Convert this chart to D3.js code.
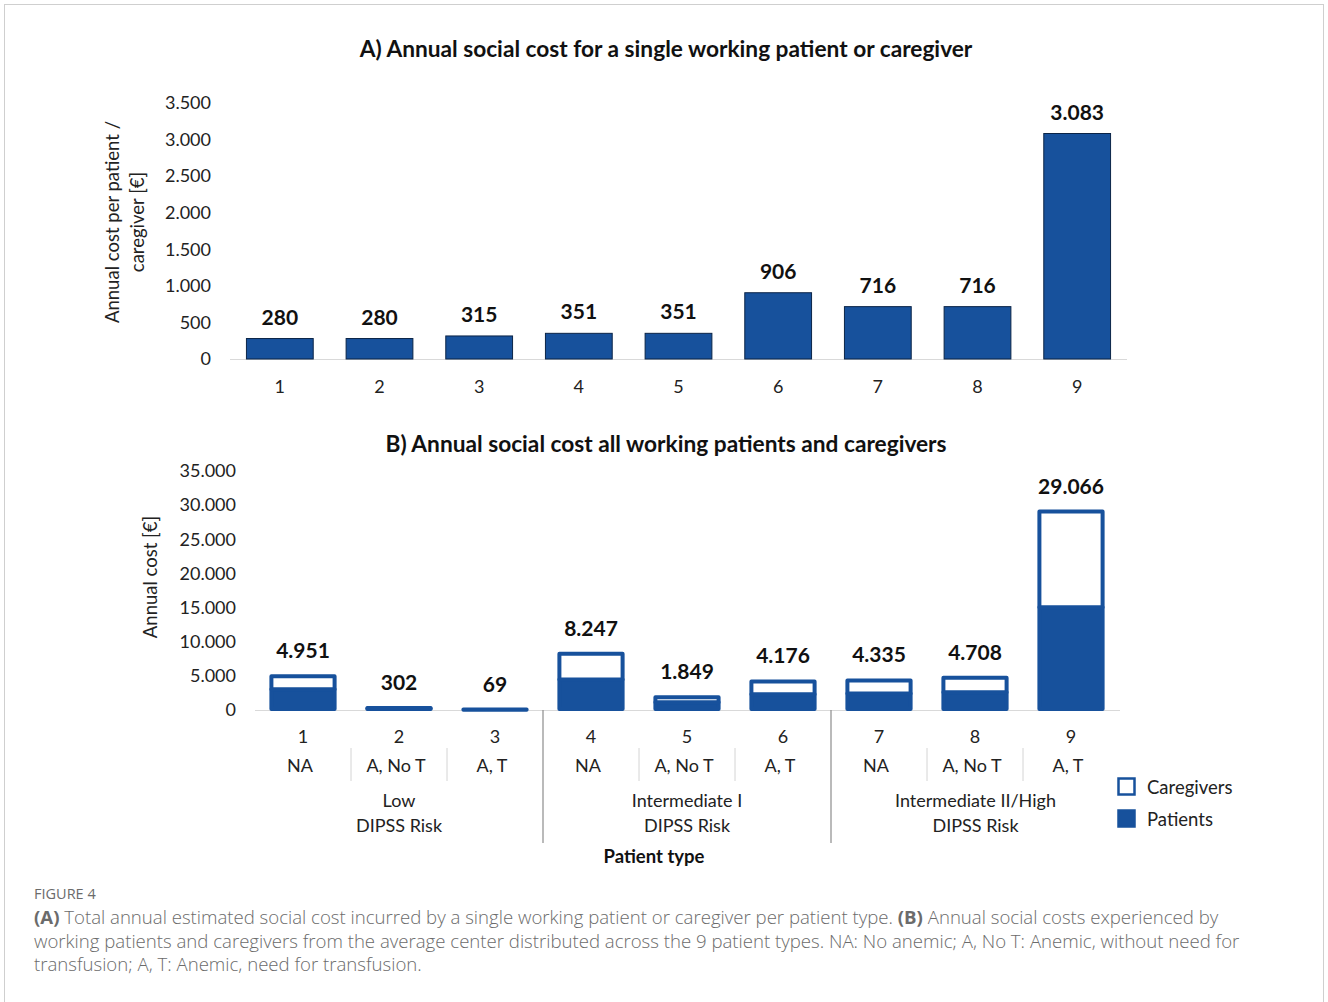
<!DOCTYPE html>
<html><head><meta charset="utf-8">
<script src="https://cdn.jsdelivr.net/npm/d3@7"></script>
<style>body{margin:0;background:#fff;} svg{display:block;}</style>
</head><body>
<svg id="c" width="1328" height="1002"></svg>
<script>
// ---- data ----
const typesA = ["1","2","3","4","5","6","7","8","9"];
const costSingle = [280, 280, 315, 351, 351, 906, 716, 716, 3083];
const ticksA = [0, 500, 1000, 1500, 2000, 2500, 3000, 3500];

const typesB = ["1","2","3","4","5","6","7","8","9"];
const subLabels = ["NA","A, No T","A, T","NA","A, No T","A, T","NA","A, No T","A, T"];
const groups = [["Low","DIPSS Risk"],["Intermediate I","DIPSS Risk"],["Intermediate II/High","DIPSS Risk"]];
const patientsCost = [3050, 210, 50, 4450, 1120, 2320, 2430, 2600, 15060];
const caregiversCost = [1901, 92, 19, 3797, 729, 1856, 1905, 2108, 14006];
const ticksB = [0, 5000, 10000, 15000, 20000, 25000, 30000, 35000];

const blue = "#17519c";
const font = "Lato, 'Open Sans', sans-serif";
const loc = d3.formatLocale({decimal:",", thousands:".", grouping:[3], currency:["","€"]});
const fmt = loc.format(",d");

const svg = d3.select("#c");
svg.append("rect").attr("x",4.5).attr("y",4.5).attr("width",1319).attr("height",1010)
  .attr("fill","none").attr("stroke","#cfcfcf");

// ---- Panel A ----
const xA = d3.scaleBand().domain(typesA).range([230,1127]).paddingInner(0.33).paddingOuter(0.165);
const yA = d3.scaleLinear().domain([0,3500]).range([359,103]);

svg.append("text").attr("x",666).attr("y",57).attr("text-anchor","middle")
  .attr("font-family",font).attr("font-weight","bold").attr("font-size",22.7).attr("fill","#111")
  .text("A) Annual social cost for a single working patient or caregiver");

const gA = svg.append("g");
gA.append("line").attr("x1",230).attr("x2",1127).attr("y1",yA(0)+0.5).attr("y2",yA(0)+0.5).attr("stroke","#d9d9d9");
const axA = gA.append("g").attr("transform","translate(211,0)")
  .call(d3.axisLeft(yA).tickValues(ticksA).tickFormat(fmt).tickSize(0).tickPadding(0));
axA.select(".domain").remove();
axA.selectAll("text").attr("font-family",font).attr("font-size",18).attr("fill","#222");

gA.selectAll("rect.a").data(costSingle).join("rect").attr("class","a")
  .attr("x",(d,i)=>xA(typesA[i])).attr("width",xA.bandwidth())
  .attr("y",d=>yA(d)).attr("height",d=>yA(0)-yA(d))
  .attr("fill",blue).attr("stroke","#0b2447").attr("stroke-width",1);
gA.selectAll("text.va").data(costSingle).join("text").attr("class","va")
  .attr("x",(d,i)=>xA(typesA[i])+xA.bandwidth()/2).attr("y",d=>yA(d)-14)
  .attr("text-anchor","middle").attr("font-family",font).attr("font-weight","bold").attr("font-size",21).attr("fill","#111")
  .text(d=>fmt(d));
const axXA = gA.append("g").attr("transform","translate(0,359)")
  .call(d3.axisBottom(xA).tickSize(0).tickPadding(21));
axXA.select(".domain").remove();
axXA.selectAll("text").attr("font-family",font).attr("font-size",18).attr("fill","#222");

const tA = svg.append("text").attr("transform","translate(119,222) rotate(-90)")
  .attr("text-anchor","middle").attr("font-family",font).attr("font-size",18.5).attr("fill","#222");
tA.append("tspan").attr("x",0).attr("dy",0).text("Annual cost per patient /");
tA.append("tspan").attr("x",0).attr("dy",25).text("caregiver [€]");

// ---- Panel B ----
const xB = d3.scaleBand().domain(typesB).range([255,1119]).paddingInner(0.3).paddingOuter(0.15);
const yB = d3.scaleLinear().domain([0,35000]).range([710,471]);

svg.append("text").attr("x",666).attr("y",452).attr("text-anchor","middle")
  .attr("font-family",font).attr("font-weight","bold").attr("font-size",22.7).attr("fill","#111")
  .text("B) Annual social cost all working patients and caregivers");

const gB = svg.append("g");
gB.append("line").attr("x1",255).attr("x2",1120).attr("y1",yB(0)+0.5).attr("y2",yB(0)+0.5).attr("stroke","#d9d9d9");
const axB = gB.append("g").attr("transform","translate(236,0)")
  .call(d3.axisLeft(yB).tickValues(ticksB).tickFormat(fmt).tickSize(0).tickPadding(0));
axB.select(".domain").remove();
axB.selectAll("text").attr("font-family",font).attr("font-size",18).attr("fill","#222");

svg.append("text").attr("transform","translate(157,577) rotate(-90)")
  .attr("text-anchor","middle").attr("font-family",font).attr("font-size",18.5).attr("fill","#222")
  .text("Annual cost [€]");

const stackData = patientsCost.map((p,i)=>({k:typesB[i], p:p, c:caregiversCost[i]}));
gB.selectAll("rect.p").data(stackData).join("rect").attr("class","p")
  .attr("x",d=>xB(d.k)+2).attr("width",xB.bandwidth()-4)
  .attr("y",d=>yB(d.p)).attr("height",d=>yB(0)-yB(d.p)-1)
  .attr("fill",blue).attr("stroke",blue).attr("stroke-width",4).attr("stroke-linejoin","round");
gB.selectAll("rect.cg").data(stackData).join("rect").attr("class","cg")
  .attr("x",d=>xB(d.k)+2).attr("width",xB.bandwidth()-4)
  .attr("y",d=>yB(d.p+d.c)).attr("height",d=>yB(d.p)-yB(d.p+d.c))
  .attr("fill","#fff").attr("stroke",blue).attr("stroke-width",4).attr("stroke-linejoin","round");
gB.selectAll("text.vb").data(stackData).join("text").attr("class","vb")
  .attr("x",d=>xB(d.k)+xB.bandwidth()/2).attr("y",d=>yB(d.p+d.c)-18)
  .attr("text-anchor","middle").attr("font-family",font).attr("font-weight","bold").attr("font-size",21).attr("fill","#111")
  .text(d=>fmt(d.p+d.c));

const axXB = gB.append("g").attr("transform","translate(0,710)")
  .call(d3.axisBottom(xB).tickSize(0).tickPadding(20));
axXB.select(".domain").remove();
axXB.selectAll("text").attr("font-family",font).attr("font-size",18).attr("fill","#222");

gB.selectAll("text.sub").data(subLabels).join("text").attr("class","sub")
  .attr("x",(d,i)=>xB(typesB[i])+xB.bandwidth()/2-3).attr("y",772)
  .attr("text-anchor","middle").attr("font-family",font).attr("font-size",18).attr("fill","#222")
  .text(d=>d);

// separators
const step = xB.step();
const sepX = i => xB(typesB[i]) - step*xB.paddingInner()/2;
typesB.forEach((t,i)=>{
  if(i===0) return;
  const xs = sepX(i);
  if(i%3===0){
    gB.append("line").attr("x1",xs).attr("x2",xs).attr("y1",710).attr("y2",843).attr("stroke","#8c8c8c").attr("stroke-width",1.2);
  } else {
    gB.append("line").attr("x1",xs).attr("x2",xs).attr("y1",748).attr("y2",781).attr("stroke","#d4d4d4");
  }
});
groups.forEach((g,gi)=>{
  const left = gi===0 ? 255 : sepX(gi*3);
  const right = gi===2 ? 1120 : sepX(gi*3+3);
  const cx = (left+right)/2;
  g.forEach((line,li)=>{
    gB.append("text").attr("x",cx).attr("y",807+li*25).attr("text-anchor","middle")
      .attr("font-family",font).attr("font-size",18).attr("fill","#222").text(line);
  });
});
svg.append("text").attr("x",654).attr("y",863).attr("text-anchor","middle")
  .attr("font-family",font).attr("font-weight","bold").attr("font-size",18.5).attr("fill","#111").text("Patient type");

// legend
const leg = [{n:"Caregivers", f:"#fff"},{n:"Patients", f:blue}];
leg.forEach((l,i)=>{
  svg.append("rect").attr("x",1118.5).attr("y",778.5+i*32).attr("width",16).attr("height",16)
    .attr("fill",l.f).attr("stroke",blue).attr("stroke-width",2.5);
  svg.append("text").attr("x",1147).attr("y",794+i*32).attr("font-family",font).attr("font-size",18.5).attr("fill","#222").text(l.n);
});

// caption
const cap = svg.append("g").attr("font-family","'Open Sans', sans-serif").attr("fill","#6b6b6b");
cap.append("text").attr("x",34).attr("y",899).attr("font-size",14.5).text("FIGURE 4");
const capLines = [
  [["(A)",true],[" Total annual estimated social cost incurred by a single working patient or caregiver per patient type. ",false],["(B)",true],[" Annual social costs experienced by",false]],
  [["working patients and caregivers from the average center distributed across the 9 patient types. NA: No anemic; A, No T: Anemic, without need for",false]],
  [["transfusion; A, T: Anemic, need for transfusion.",false]]
];
capLines.forEach((ln,i)=>{
  const t = cap.append("text").attr("x",34).attr("y",924+i*23.5).attr("font-size",18.6).attr("font-weight",300);
  ln.forEach(s=>t.append("tspan").attr("font-weight",s[1]?700:300).text(s[0]));
});
</script>
</body></html>
